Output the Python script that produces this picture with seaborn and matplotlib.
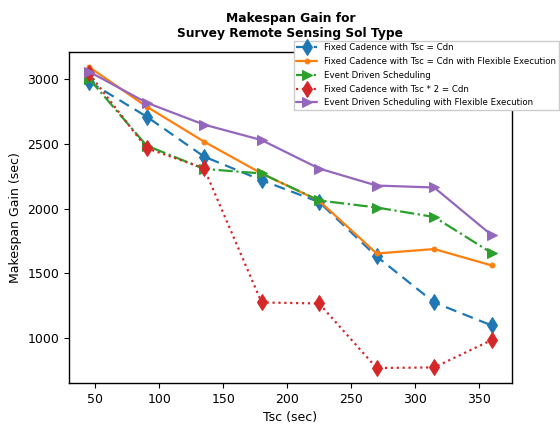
import matplotlib
matplotlib.use("Agg")
import matplotlib.pyplot as plt
import seaborn as sns
import pandas as pd

sns.set_style("ticks")
plt.rcParams['font.family'] = ['DejaVu Sans']
plt.rcParams['text.color'] = 'black'
plt.rcParams['axes.labelcolor'] = 'black'

tsc = [45, 90, 135, 180, 225, 270, 315, 360]

fixed_cadence = [2977, 2708, 2400, 2218, 2050, 1631, 1277, 1100]
fixed_cadence_flex = [3090, 2785, 2515, 2270, 2060, 1654, 1688, 1562]
event_driven = [3000, 2485, 2305, 2270, 2062, 2008, 1935, 1658]
fixed_cadence_double = [3040, 2465, 2310, 1277, 1269, 772, 777, 988]
event_driven_flex = [3054, 2815, 2646, 2527, 2308, 2177, 2162, 1795]

series = [
    ("Fixed Cadence with Tsc = Cdn", fixed_cadence, "#1f77b4", "d", (0, (5, 3)), 8),
    ("Fixed Cadence with Tsc = Cdn with Flexible Execution", fixed_cadence_flex, "#ff7f0e", "o", "-", 3.5),
    ("Event Driven Scheduling", event_driven, "#2ca02c", ">", "-.", 7),
    ("Fixed Cadence with Tsc * 2 = Cdn", fixed_cadence_double, "#d62728", "d", ":", 8),
    ("Event Driven Scheduling with Flexible Execution", event_driven_flex, "#9467bd", ">", "-", 7),
]

fig = plt.figure(figsize=(5.6, 4.29), dpi=100)
ax = fig.add_axes([0.123, 0.107, 0.791, 0.772])

for name, vals, color, marker, ls, ms in series:
    df = pd.DataFrame({"Tsc": tsc, "Gain": vals})
    sns.lineplot(data=df, x="Tsc", y="Gain", ax=ax, color=color, marker=marker,
                 markersize=ms, markeredgecolor=color, linestyle=ls,
                 linewidth=1.6, label=name)

for s in ax.spines.values():
    s.set_color("black")
    s.set_linewidth(1.0)
ax.tick_params(axis="both", labelsize=9, colors="black", length=3.5)
ax.set_xticks([50, 100, 150, 200, 250, 300, 350])
ax.set_yticks([1000, 1500, 2000, 2500, 3000])
ax.set_xlabel("Tsc (sec)", fontsize=9, color="black")
ax.set_ylabel("Makespan Gain (sec)", fontsize=9, color="black")
ax.set_title("Makespan Gain for\nSurvey Remote Sensing Sol Type",
             fontsize=8.8, fontweight="bold", pad=11, color="black")

leg = ax.legend(loc="upper right", bbox_to_anchor=(1.106, 1.034), fontsize=6.25,
                frameon=True, fancybox=False, borderaxespad=0,
                handlelength=2.4, labelspacing=0.55, borderpad=0.3)
leg.get_frame().set_edgecolor("#cccccc")
leg.get_frame().set_alpha(1)
for t in leg.get_texts():
    t.set_color("black")

fig.savefig("out.png", dpi=100)
